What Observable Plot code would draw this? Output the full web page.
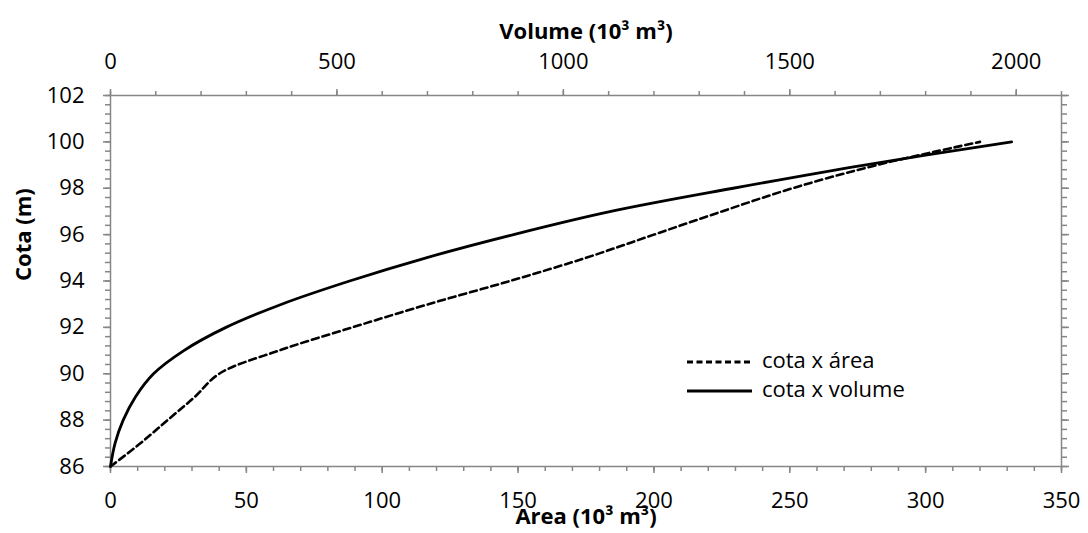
<!DOCTYPE html>
<html>
<head>
<meta charset="utf-8">
<script src="https://cdn.jsdelivr.net/npm/d3@7"></script>
<script src="https://cdn.jsdelivr.net/npm/@observablehq/plot@0.6"></script>
<style>
  body { margin: 0; background: #fff; }
  #wrap { position: relative; width: 1088px; height: 533px; font-family: "Open Sans", sans-serif; }
  #legend { position: absolute; left: 687px; top: 347px; font-size: 22px; color: #000; }
  #legend .row { display: flex; align-items: center; height: 29px; }
  #legend .row span { margin-left: 10px; position: relative; top: -3px; white-space: nowrap; }
</style>
</head>
<body>
<div id="wrap">
  <div id="chart"></div>
  <div id="legend"></div>
</div>
<script>
// Reservoir stage curves: elevation (cota) against flooded area and stored volume
const cota   = [86, 87, 88, 89, 90, 91, 92, 93, 94, 95, 96, 97, 98, 99, 100];
const area   = [0, 11, 21, 31, 40, 62, 89, 117, 147, 175, 200, 225, 251, 282, 320];
const volume = [0, 10, 28, 55, 95, 162, 255, 378, 528, 697, 890, 1105, 1375, 1665, 1990];

// Axis ticks
const areaTicks   = [0, 50, 100, 150, 200, 250, 300, 350];
const volumeTicks = [0, 500, 1000, 1500, 2000];
const cotaTicks   = [86, 88, 90, 92, 94, 96, 98, 100, 102];
const areaMax = 350;
const volumeMax = 2100;
const cotaMin = 86, cotaMax = 102;

// Secondary (top) axis: volume mapped onto the area scale
const k = areaMax / volumeMax;

const areaMinor   = d3.range(0, areaMax + 1, 10);
const volumeMinor = d3.range(0, volumeMax + 1, 100).map(v => v * k);
const cotaMinor   = d3.range(0, 41).map(i => cotaMin + i * 0.4);

const rows = cota.map((c, i) => ({cota: c, area: area[i], volume: volume[i]}));

const axisGray = "#868686";
const minor = {tickSize: 5, tickFormat: () => "", stroke: axisGray, strokeWidth: 1.5, label: null};
const plain = d => String(d);

const chart = Plot.plot({
  width: 1088,
  height: 533,
  marginLeft: 110,
  marginRight: 27,
  marginTop: 95,
  marginBottom: 67,
  x: {domain: [0, areaMax]},
  y: {domain: [cotaMin, cotaMax]},
  style: {fontFamily: "'Open Sans', sans-serif", fontSize: "22px", color: "#000", background: "#fff", overflow: "visible"},
  marks: [
    Plot.axisX(areaMinor, {anchor: "bottom", ...minor}),
    Plot.axisX(areaTicks, {anchor: "bottom", tickSize: 7, tickPadding: 19, stroke: axisGray, strokeWidth: 1.5, label: null, fontSize: 22, tickFormat: plain}),
    Plot.axisX(volumeMinor, {anchor: "top", ...minor}),
    Plot.axisX(volumeTicks.map(v => v * k), {anchor: "top", tickSize: 7, tickPadding: 20, stroke: axisGray, strokeWidth: 1.5, label: null, fontSize: 22, tickFormat: d => String(Math.round(d / k))}),
    Plot.axisY(cotaMinor, {anchor: "left", ...minor}),
    Plot.axisY(cotaTicks, {anchor: "left", tickSize: 7, tickPadding: 19, stroke: axisGray, strokeWidth: 1.5, label: null, fontSize: 22, tickFormat: plain}),
    Plot.axisY(cotaMinor, {anchor: "right", ...minor}),
    Plot.axisY(cotaTicks, {anchor: "right", tickSize: 7, tickFormat: () => "", stroke: axisGray, strokeWidth: 1.5, label: null}),
    Plot.frame({stroke: axisGray, strokeWidth: 1.5}),
    Plot.line(rows, {x: "area", y: "cota", stroke: "#000", strokeWidth: 2.6, strokeDasharray: "7,4", curve: "catmull-rom"}),
    Plot.line(rows, {x: d => d.volume * k, y: "cota", stroke: "#000", strokeWidth: 2.8, curve: "catmull-rom"}),
    Plot.text(["Volume (10³ m³)"], {frameAnchor: "top", dy: -72, fontWeight: "bold", fontSize: 22}),
    Plot.text(["Area (10³ m³)"], {frameAnchor: "bottom", dy: 57, fontWeight: "bold", fontSize: 22}),
    Plot.text(["Cota (m)"], {frameAnchor: "left", dx: -87, rotate: -90, fontWeight: "bold", fontSize: 22})
  ]
});
document.getElementById("chart").append(chart);

// Legend
const legendItems = [
  {label: "cota x área", dash: "6,3.5"},
  {label: "cota x volume", dash: null}
];
const legend = d3.select("#legend");
for (const item of legendItems) {
  const row = legend.append("div").attr("class", "row");
  const svg = row.append("svg").attr("width", 65).attr("height", 6);
  svg.append("line")
    .attr("x1", 0).attr("x2", 65).attr("y1", 3).attr("y2", 3)
    .attr("stroke", "#000").attr("stroke-width", 2.8)
    .attr("stroke-dasharray", item.dash);
  row.append("span").text(item.label);
}
</script>
</body>
</html>
